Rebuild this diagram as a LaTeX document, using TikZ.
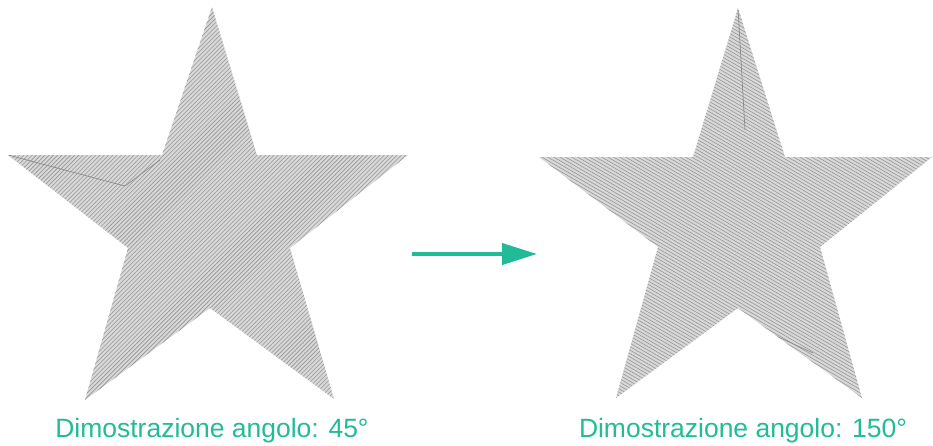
\documentclass[tikz,border=0pt]{standalone}
\usepackage{fontspec}
\setmainfont{Liberation Sans}
\usepackage{tikz}
\usetikzlibrary{arrows.meta,positioning}
\definecolor{stgreen}{HTML}{22BB97}
\definecolor{stitchgray}{HTML}{969696}
\definecolor{basegray}{HTML}{D8D8D8}

\begin{document}
\begin{tikzpicture}[x=0.03cm,y=-0.03cm,
  stitch/.style={stitchgray,line width=0.5pt},
  travel/.style={black!45,line width=0.6pt},
  caption/.style={text=stgreen,font=\fontsize{22.6}{27}\selectfont,anchor=base,inner sep=0pt}]
\useasboundingbox (0,0) rectangle (933,445);

% stella a sinistra
\coordinate (aT) at (212,7);   \coordinate (aTR) at (257,155);
\coordinate (aR) at (408,155); \coordinate (aRL) at (290,248);
\coordinate (aBR) at (334,399);\coordinate (aB) at (210,308);
\coordinate (aBL) at (85,400); \coordinate (aLL) at (128,248);
\coordinate (aL) at (8,155);   \coordinate (aTL) at (162,155);
\begin{scope}
\clip (aT) -- (aTR) -- (aR) -- (aRL) -- (aBR) -- (aB) -- (aBL) -- (aLL) -- (aL) -- (aTL) -- cycle;
\fill[basegray] (0,0) rectangle (420,420);
\begin{scope}[shift={(210,215)},rotate=45]
\foreach \k in {-100,...,100}
  \draw[stitch] (-320,\k*3) -- (320,\k*3);
\end{scope}
\draw[travel] (aL) -- (125,186) -- (160,160);
\end{scope}

% stella a destra
\coordinate (bT) at (738,8);   \coordinate (bTR) at (785,157);
\coordinate (bR) at (932,157); \coordinate (bRL) at (820,247);
\coordinate (bBR) at (862,398);\coordinate (bB) at (738,308);
\coordinate (bBL) at (616,398);\coordinate (bLL) at (658,247);
\coordinate (bL) at (539,157); \coordinate (bTL) at (693,157);
\begin{scope}
\clip (bT) -- (bTR) -- (bR) -- (bRL) -- (bBR) -- (bB) -- (bBL) -- (bLL) -- (bL) -- (bTL) -- cycle;
\fill[basegray] (530,0) rectangle (933,420);
\begin{scope}[shift={(738,215)},rotate=150]
\foreach \k in {-100,...,100}
  \draw[stitch] (-320,\k*3) -- (320,\k*3);
\end{scope}
\draw[travel] (bT) -- (745,130);
\draw[travel] (763,330) -- (813,353);
\end{scope}

% freccia
\coordinate (arrS) at (412,254);
\coordinate (arrE) at (537,254);
\draw[stgreen,line width=3.4pt,-{Triangle[length=1.05cm,width=0.63cm]}] (arrS) -- (arrE);

\node[caption] (capA) at (212,437) {Dimostrazione angolo: 45°};
\node[caption] (capB) at (743,437) {Dimostrazione angolo: 150°};
\end{tikzpicture}
\end{document}
